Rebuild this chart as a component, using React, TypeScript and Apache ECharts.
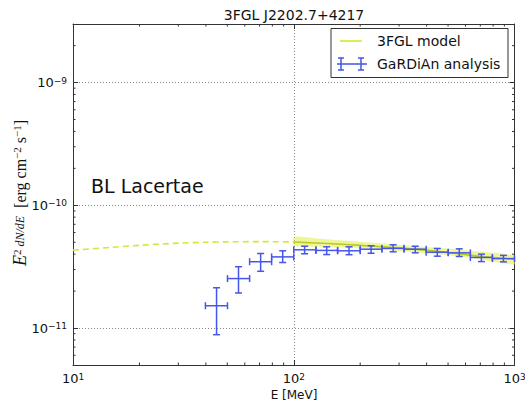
import React, { useEffect, useRef } from "react";
import * as echarts from "echarts";

// ---- data ----
const pointEnergy = [44.7, 56.2, 70.8, 89.1, 112, 141, 178, 224, 282, 355, 447, 562, 708, 891];
const pointEnergyLow = [39.8, 50.1, 63.1, 79.4, 100, 126, 158, 200, 251, 316, 398, 501, 631, 794];
const pointEnergyHigh = [50.1, 63.1, 79.4, 100, 126, 158, 200, 251, 316, 398, 501, 631, 794, 1000];
const pointFlux = [1.52e-11, 2.53e-11, 3.47e-11, 3.8e-11, 4.34e-11, 4.29e-11, 4.26e-11, 4.39e-11, 4.46e-11, 4.39e-11, 4.15e-11, 4.1e-11, 3.76e-11, 3.68e-11];
const pointFluxUpper = [2.13e-11, 3.16e-11, 4.05e-11, 4.26e-11, 4.64e-11, 4.59e-11, 4.59e-11, 4.68e-11, 4.77e-11, 4.64e-11, 4.45e-11, 4.42e-11, 4.0e-11, 3.91e-11];
const pointFluxLower = [8.83e-12, 1.93e-11, 2.9e-11, 3.42e-11, 4.03e-11, 3.97e-11, 3.96e-11, 4.07e-11, 4.18e-11, 4.1e-11, 3.85e-11, 3.83e-11, 3.48e-11, 3.46e-11];

const extrapEnergy = [10, 15, 20, 30, 40, 50, 70, 100];
const extrapFlux = [4.31e-11, 4.55e-11, 4.72e-11, 4.92e-11, 5.0e-11, 5.04e-11, 5.06e-11, 5.03e-11];

const modelEnergy = [100, 150, 200, 300, 500, 700, 1000];
const modelFlux = [5.02e-11, 4.86e-11, 4.72e-11, 4.5e-11, 4.13e-11, 3.84e-11, 3.63e-11];

const bandEnergy = [100, 140, 200, 300, 450, 650, 1000];
const bandUpper = [5.55e-11, 5.28e-11, 5.04e-11, 4.76e-11, 4.51e-11, 4.24e-11, 3.9e-11];
const bandLower = [4.68e-11, 4.6e-11, 4.49e-11, 4.23e-11, 3.99e-11, 3.71e-11, 3.3e-11];

const minorXTicks = [20, 30, 40, 50, 60, 70, 80, 90, 200, 300, 400, 500, 600, 700, 800, 900];
const minorYTicks = [6e-12, 7e-12, 8e-12, 9e-12, 2e-11, 3e-11, 4e-11, 5e-11, 6e-11, 7e-11, 8e-11, 9e-11, 2e-10, 3e-10, 4e-10, 5e-10, 6e-10, 7e-10, 8e-10, 9e-10, 2e-9];

const X_MIN = 10, X_MAX = 1000, Y_MIN = 5e-12, Y_MAX = 3e-9;

const titleText = "3FGL J2202.7+4217";
const sourceClass = "BL Lacertae";
const legendModel = "3FGL model";
const legendData = "GaRDiAn analysis";
const xTitle = "E [MeV]";

const BLUE = "#4655ea";
const DASH = "#d6e635";
const SOLID = "#b5cc25";
const AX = "#333";
const SANS = "DejaVu Sans";
const SERIF = "Liberation Serif";

function powLabel(v: number) {
  const e = Math.log10(v);
  const r = Math.round(e);
  if (Math.abs(e - r) > 0.01) return "";
  return `{b|10}{s|${r < 0 ? "\u2212" : ""}${Math.abs(r)}}`;
}

const labelRich = {
  b: { fontSize: 13, fontFamily: SANS, color: "#111" },
  s: { fontSize: 9, fontFamily: SANS, color: "#111", verticalAlign: "top" },
};

export default function App() {
  const ref = useRef<HTMLDivElement>(null);
  useEffect(() => {
    if (!ref.current) return;
    const chart = echarts.init(ref.current, null, { renderer: "svg" });

    const baseAxis = {
      type: "log",
      logBase: 10,
      axisLine: { show: true, lineStyle: { color: AX, width: 1 } },
      axisTick: { show: true, inside: true, length: 5, lineStyle: { color: AX, width: 1 } },
      minorTick: { show: false },
      minorSplitLine: { show: false },
    };

    const option: any = {
      animation: false,
      backgroundColor: "#fff",
      grid: { left: 73, right: 10.5, top: 24, bottom: 39, outerBoundsMode: "none" },
      xAxis: [
        {
          ...baseAxis,
          position: "bottom",
          min: X_MIN,
          max: X_MAX,
          axisLabel: { formatter: powLabel, rich: labelRich, margin: 7, showMinLabel: true, showMaxLabel: true },
          splitLine: { show: true, lineStyle: { color: "#888", type: [1, 2], width: 1 } },
        },
        {
          ...baseAxis,
          position: "top",
          min: X_MIN,
          max: X_MAX,
          axisLabel: { show: false },
          splitLine: { show: false },
        },
      ],
      yAxis: [
        {
          ...baseAxis,
          position: "left",
          min: Y_MIN,
          max: Y_MAX,
          axisLabel: { formatter: powLabel, rich: labelRich, margin: 6 },
          splitLine: { show: true, lineStyle: { color: "#888", type: [1, 2], width: 1 } },
        },
        {
          ...baseAxis,
          position: "right",
          min: Y_MIN,
          max: Y_MAX,
          axisLabel: { show: false },
          splitLine: { show: false },
        },
      ],
      series: [
        {
          type: "custom",
          name: "band",
          silent: true,
          z: 2,
          data: bandEnergy.map((e, i) => [e, bandLower[i], bandUpper[i]]),
          renderItem: (params: any, api: any) => {
            if (params.dataIndex !== 0) return null;
            const pts: number[][] = [];
            bandEnergy.forEach((e, i) => pts.push(api.coord([e, bandUpper[i]])));
            for (let i = bandEnergy.length - 1; i >= 0; i--) pts.push(api.coord([bandEnergy[i], bandLower[i]]));
            return {
              type: "polygon",
              shape: { points: pts, smooth: 0.2 },
              style: { fill: "rgba(225,236,70,0.55)", stroke: "none" },
            };
          },
        },
        {
          type: "line",
          name: "3FGL extrapolation",
          data: extrapEnergy.map((e, i) => [e, extrapFlux[i]]),
          showSymbol: false,
          symbol: "none",
          smooth: 0.3,
          z: 3,
          lineStyle: { color: DASH, width: 1.6, type: [6, 4] },
        },
        {
          type: "line",
          name: legendModel,
          data: modelEnergy.map((e, i) => [e, modelFlux[i]]),
          showSymbol: false,
          symbol: "none",
          smooth: 0.3,
          z: 3,
          lineStyle: { color: SOLID, width: 1.6 },
        },
        {
          type: "custom",
          name: legendData,
          z: 4,
          data: pointEnergy.map((e, i) => [e, pointFlux[i], pointEnergyLow[i], pointEnergyHigh[i], pointFluxLower[i], pointFluxUpper[i]]),
          encode: { x: [0, 2, 3], y: [1, 4, 5] },
          renderItem: (params: any, api: any) => {
            const x = api.value(0), y = api.value(1);
            const c = api.coord([x, y]);
            const l = api.coord([api.value(2), y]);
            const h = api.coord([api.value(3), y]);
            const b = api.coord([x, api.value(4)]);
            const t = api.coord([x, api.value(5)]);
            const cap = 3.5;
            const style = { stroke: BLUE, lineWidth: 1.5, fill: "none" };
            const ln = (x1: number, y1: number, x2: number, y2: number) => ({ type: "line", shape: { x1, y1, x2, y2 }, style });
            return {
              type: "group",
              children: [
                ln(l[0], c[1], h[0], c[1]),
                ln(c[0], t[1], c[0], b[1]),
                ln(c[0] - cap, t[1], c[0] + cap, t[1]),
                ln(c[0] - cap, b[1], c[0] + cap, b[1]),
                ln(l[0], c[1] - cap, l[0], c[1] + cap),
                ln(h[0], c[1] - cap, h[0], c[1] + cap),
              ],
            };
          },
        },
        {
          type: "custom",
          name: "minorX",
          silent: true,
          z: 5,
          data: minorXTicks.map((v) => [v, 1e-10]),
          renderItem: (params: any, api: any) => {
            const cs = params.coordSys;
            const px = api.coord([api.value(0), 1e-10])[0];
            const style = { stroke: AX, lineWidth: 1 };
            return {
              type: "group",
              children: [
                { type: "line", shape: { x1: px, y1: cs.y + cs.height, x2: px, y2: cs.y + cs.height - 2.5 }, style },
                { type: "line", shape: { x1: px, y1: cs.y, x2: px, y2: cs.y + 2.5 }, style },
              ],
            };
          },
        },
        {
          type: "custom",
          name: "minorY",
          silent: true,
          z: 5,
          data: minorYTicks.map((v) => [100, v]),
          renderItem: (params: any, api: any) => {
            const cs = params.coordSys;
            const py = api.coord([100, api.value(1)])[1];
            const style = { stroke: AX, lineWidth: 1 };
            return {
              type: "group",
              children: [
                { type: "line", shape: { x1: cs.x, y1: py, x2: cs.x + 2.5, y2: py }, style },
                { type: "line", shape: { x1: cs.x + cs.width, y1: py, x2: cs.x + cs.width - 2.5, y2: py }, style },
              ],
            };
          },
        },
      ],
      graphic: [
        {
          type: "text",
          x: 294,
          y: 15,
          style: { text: titleText, font: `14px '${SANS}'`, fill: "#111", align: "center", verticalAlign: "middle" },
        },
        {
          type: "text",
          x: 91,
          y: 186,
          z: 10,
          style: { text: sourceClass, font: `19px '${SANS}'`, fill: "#111", align: "left", verticalAlign: "middle" },
        },
        {
          type: "text",
          x: 294,
          y: 395,
          style: { text: xTitle, font: `12px '${SANS}'`, fill: "#111", align: "center", verticalAlign: "middle" },
        },
        {
          type: "text",
          x: 20,
          y: 193,
          rotation: Math.PI / 2,
          style: {
            text: "{i|E}{sup|2}{f| dN/dE}{n|  [erg cm}{sup|\u22122}{n| s}{sup|\u22121}{n|]}",
            align: "center",
            verticalAlign: "middle",
            fill: "#111",
            rich: {
              i: { fontFamily: SERIF, fontSize: 18, fontStyle: "italic", fill: "#111" },
              f: { fontFamily: SERIF, fontSize: 12, fontStyle: "italic", fill: "#111" },
              n: { fontFamily: SERIF, fontSize: 16, fill: "#111" },
              sup: { fontFamily: SERIF, fontSize: 11, fill: "#111", verticalAlign: "top" },
            },
          },
        },
        {
          type: "group",
          z: 20,
          children: [
            { type: "rect", shape: { x: 331, y: 28.5, width: 177, height: 49 }, style: { fill: "#fff", stroke: AX, lineWidth: 1 } },
            { type: "line", shape: { x1: 340, y1: 41, x2: 362, y2: 41 }, style: { stroke: DASH, lineWidth: 1.6 } },
            { type: "text", x: 377, y: 41, style: { text: legendModel, font: `14px '${SANS}'`, fill: "#111", align: "left", verticalAlign: "middle" } },
            { type: "line", shape: { x1: 337, y1: 64, x2: 367, y2: 64 }, style: { stroke: BLUE, lineWidth: 1.5 } },
            { type: "line", shape: { x1: 341, y1: 58, x2: 341, y2: 70 }, style: { stroke: BLUE, lineWidth: 1.5 } },
            { type: "line", shape: { x1: 338, y1: 58, x2: 344, y2: 58 }, style: { stroke: BLUE, lineWidth: 1.5 } },
            { type: "line", shape: { x1: 338, y1: 70, x2: 344, y2: 70 }, style: { stroke: BLUE, lineWidth: 1.5 } },
            { type: "line", shape: { x1: 361, y1: 58, x2: 361, y2: 70 }, style: { stroke: BLUE, lineWidth: 1.5 } },
            { type: "line", shape: { x1: 358, y1: 58, x2: 364, y2: 58 }, style: { stroke: BLUE, lineWidth: 1.5 } },
            { type: "line", shape: { x1: 358, y1: 70, x2: 364, y2: 70 }, style: { stroke: BLUE, lineWidth: 1.5 } },
            { type: "text", x: 377, y: 64, style: { text: legendData, font: `14px '${SANS}'`, fill: "#111", align: "left", verticalAlign: "middle" } },
          ],
        },
      ],
    };

    chart.setOption(option);
    return () => chart.dispose();
  }, []);

  return <div ref={ref} style={{ position: "fixed", left: 0, top: 0, width: 525, height: 404 }} />;
}
